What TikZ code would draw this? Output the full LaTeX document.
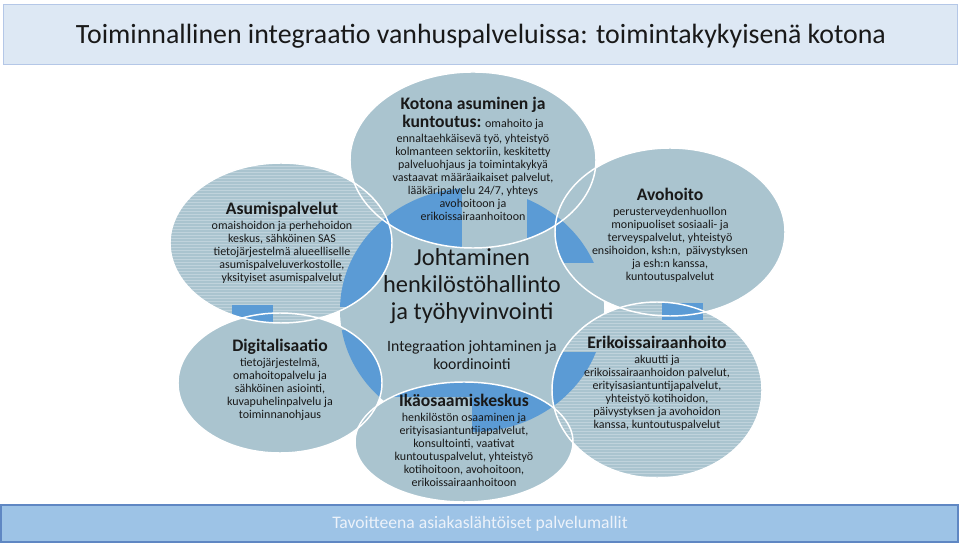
\documentclass[tikz,border=0pt]{standalone}
\usepackage{fontspec}
\setmainfont{Carlito}
\definecolor{ellfill}{RGB}{170,196,207}
\definecolor{stripecol}{RGB}{192,211,220}
\definecolor{bluefill}{RGB}{91,155,213}
\definecolor{titlefill}{RGB}{221,232,244}
\definecolor{titleline}{RGB}{180,199,231}
\definecolor{barfill}{RGB}{157,195,230}
\definecolor{barline}{RGB}{95,135,195}
\definecolor{txtcol}{RGB}{25,25,25}
\definecolor{goaltxt}{RGB}{236,242,250}
\newcommand\ElT{(473,160) ellipse [x radius=92.25pt, y radius=66pt]}
\newcommand\ElA{(281,243) ellipse [x radius=83.25pt, y radius=60pt]}
\newcommand\ElD{(280,383) ellipse [x radius=76.5pt, y radius=52.5pt]}
\newcommand\ElI{(464,442) ellipse [x radius=81.75pt, y radius=45pt]}
\newcommand\ElV{(670,232) ellipse [x radius=86.25pt, y radius=63pt]}
\newcommand\ElE{(657,390) ellipse [x radius=78.75pt, y radius=66pt]}
\newcommand\ElC{(472,310) ellipse [x radius=99pt, y radius=91.5pt]}
\newcommand\hdf{\fontsize{13.2}{14}\selectfont\bfseries}
\begin{document}
\begin{tikzpicture}[x=0.75pt,y=-0.75pt,
  ellline/.style={draw=white, line width=1.1pt},
  stripeline/.style={draw=stripecol, line width=0.75pt},
  txt/.style={align=center, inner sep=0pt, text=txtcol, font=\fontsize{9}{9.75}\selectfont}]
\useasboundingbox (0,0) rectangle (960,548);
\fill[white] (0,0) rectangle (960,548);
% title
\draw[fill=titlefill, draw=titleline, line width=0.75pt] (3,5) rectangle (957,65);
\node[inner sep=0pt, text=txtcol, font=\fontsize{20.9}{24}\selectfont] (title) at (481,36) {Toiminnallinen integraatio vanhuspalveluissa: toimintakykyisenä kotona};
% shapes
\fill[ellfill] \ElC;
\fill[ellfill] \ElT;
\fill[ellfill] \ElV;
\fill[ellfill] \ElI;
\fill[ellfill] \ElD;
\fill[ellfill] \ElA;
\fill[ellfill] \ElE;
\begin{scope}
  \clip \ElA;
  \foreach \yy in {161,164,...,326} \draw[stripeline] (160,\yy) -- (400,\yy);
\end{scope}
\begin{scope}
  \clip \ElE;
  \foreach \yy in {300,303,...,480} \draw[stripeline] (545,\yy) -- (770,\yy);
\end{scope}
% blue segments
\begin{scope}
  \clip \ElT \ElA \ElD \ElI \ElV \ElE;
  \clip \ElC;
  \fill[bluefill] (300,150) rectangle (462,307);
  \fill[bluefill] (527,150) rectangle (620,263);
  \fill[bluefill] (472,352) rectangle (620,460);
  \fill[bluefill] (300,330) rectangle (382,460);
  \fill[bluefill] (382,330) rectangle (472,397);
\end{scope}
\begin{scope}
  \clip \ElA;
  \fill[bluefill] (232,305) rectangle (273,330);
\end{scope}
\begin{scope}
  \clip \ElV \ElE;
  \fill[bluefill] (662,303) rectangle (703,320);
\end{scope}
% outlines
\draw[ellline] \ElT;
\draw[ellline] \ElA;
\draw[ellline] \ElD;
\draw[ellline] \ElI;
\draw[ellline] \ElV;
\draw[ellline] \ElE;
% texts
\node[txt] (kotona) at (473,159) {{\hdf Kotona asuminen ja}\\[1pt]
  {\hdf kuntoutus:} omahoito ja\\[1.5pt]
  ennaltaehkäisevä työ, yhteistyö\\
  kolmanteen sektoriin, keskitetty\\
  palveluohjaus ja toimintakykyä\\
  vastaavat määräaikaiset palvelut,\\
  lääkäripalvelu 24/7, yhteys\\
  avohoitoon ja\\
  erikoissairaanhoitoon};
\node[txt] (asumis) at (282,243) {{\hdf Asumispalvelut}\\[1.5pt]
  omaishoidon ja perhehoidon\\
  keskus, sähköinen SAS\\
  tietojärjestelmä alueelliselle\\
  asumispalveluverkostolle,\\
  yksityiset asumispalvelut};
\node[txt] (digi) at (280,380) {{\hdf Digitalisaatio}\\[1.5pt]
  tietojärjestelmä,\\
  omahoitopalvelu ja\\
  sähköinen asiointi,\\
  kuvapuhelinpalvelu ja\\
  toiminnanohjaus};
\node[txt] (ika) at (464,440) {{\hdf Ikäosaamiskeskus}\\[1.5pt]
  henkilöstön osaaminen ja\\
  erityisasiantuntijapalvelut,\\
  konsultointi, vaativat\\
  kuntoutuspalvelut, yhteistyö\\
  kotihoitoon, avohoitoon,\\
  erikoissairaanhoitoon};
\node[txt] (avo) at (670,235) {{\hdf Avohoito}\\[1.5pt]
  perusterveydenhuollon\\
  monipuoliset sosiaali- ja\\
  terveyspalvelut, yhteistyö\\
  ensihoidon, ksh:n,~ päivystyksen\\
  ja esh:n kanssa,\\
  kuntoutuspalvelut};
\node[txt] (eriko) at (657,383) {{\hdf Erikoissairaanhoito}\\[1.5pt]
  akuutti ja\\
  erikoissairaanhoidon palvelut,\\
  erityisasiantuntijapalvelut,\\
  yhteistyö kotihoidon,\\
  päivystyksen ja avohoidon\\
  kanssa, kuntoutuspalvelut};
\node[txt, font=\fontsize{18.3}{20}\selectfont] (johto) at (472,286) {Johtaminen\\ henkilöstöhallinto\\ ja työhyvinvointi};
\node[txt, font=\fontsize{11.8}{13}\selectfont] (integ) at (472,355) {Integraation johtaminen ja\\ koordinointi};
% bottom bar
\draw[fill=barfill, draw=barline, line width=0.9pt] (1,505) rectangle (958,542);
\node[inner sep=0pt, text=goaltxt, font=\fontsize{13.2}{15}\selectfont] (goal) at (480,524) {Tavoitteena asiakaslähtöiset palvelumallit};
\end{tikzpicture}
\end{document}
